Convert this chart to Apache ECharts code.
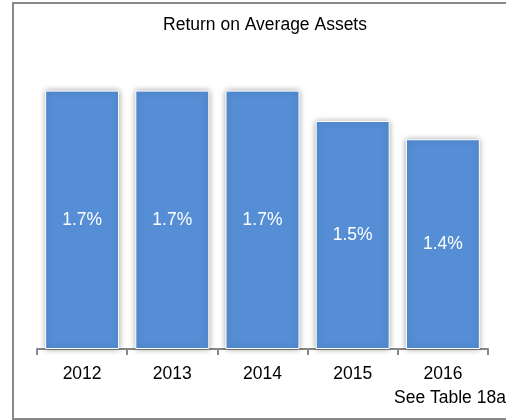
<!DOCTYPE html>
<html>
<head>
<meta charset="utf-8">
<script src="https://cdn.jsdelivr.net/npm/echarts@6/dist/echarts.min.js"></script>
<style>
  html, body { margin: 0; padding: 0; background: #fff; }
  #chart { width: 506px; height: 420px; }
</style>
</head>
<body>
<div id="chart"></div>
<script>
const years = ['2012', '2013', '2014', '2015', '2016'];
const roaa = [1.7, 1.7, 1.7, 1.5, 1.38];
const titleText = 'Return on Average Assets';
const noteText = 'See Table 18a';

const font = '"Liberation Sans", Arial, sans-serif';

const chart = echarts.init(document.getElementById('chart'), null, { renderer: 'canvas' });

chart.setOption({
    animation: false,
    title: {
        text: titleText,
        left: 260,
        textAlign: 'center',
        top: 11,
        textStyle: { fontFamily: font, fontSize: 17.5, fontWeight: 'normal', color: '#000' }
    },
    grid: { left: 37, right: 18, top: 45, bottom: 71, containLabel: false },
    xAxis: {
        type: 'category',
        data: years,
        axisLine: { lineStyle: { color: '#888', width: 2 } },
        axisTick: { show: true, length: 6, lineStyle: { color: '#888', width: 2 } },
        axisLabel: { fontFamily: font, fontSize: 17.5, color: '#000', margin: 16 }
    },
    yAxis: {
        type: 'value',
        min: 0,
        max: 2,
        show: false
    },
    series: [{
        type: 'bar',
        data: roaa,
        barCategoryGap: '18%',
        itemStyle: {
            color: '#558ED5',
            borderColor: '#ffffff',
            borderWidth: 1,
            shadowColor: 'rgba(0,0,0,0.35)',
            shadowBlur: 6,
            shadowOffsetX: 0,
            shadowOffsetY: 0
        },
        label: {
            show: true,
            position: 'inside',
            color: '#fff',
            fontFamily: font,
            fontSize: 17.5,
            formatter: p => p.value.toFixed(1) + '%'
        }
    }],
    graphic: [
        {
            type: 'rect',
            shape: { x: 13, y: 3, width: 520, height: 416 },
            style: { fill: 'none', stroke: '#888', lineWidth: 2 },
            silent: true
        },
        {
            type: 'text',
            left: 394,
            top: 389,
            style: { text: noteText, fontFamily: font, fontSize: 17.5, fill: '#000' }
        }
    ]
});
</script>
</body>
</html>
